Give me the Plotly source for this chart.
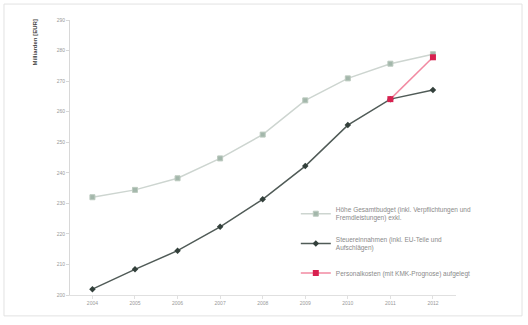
import plotly.graph_objects as go

years = ["2004", "2005", "2006", "2007", "2008", "2009", "2010", "2011", "2012"]
budget = [232.0, 234.4, 238.2, 244.7, 252.5, 263.7, 270.9, 275.7, 278.8]
steuern = [201.9, 208.4, 214.5, 222.3, 231.3, 242.2, 255.6, 264.1, 267.1]
personal_years = ["2011", "2012"]
personal = [264.1, 277.8]
y_ticks = [200, 210, 220, 230, 240, 250, 260, 270, 280, 290]

name1 = "Höhe Gesamtbudget (inkl. Verpflichtungen und<br>Fremdleistungen) exkl."
name2 = "Steuereinnahmen (inkl. EU-Teile und<br>Aufschlägen)"
name3 = "Personalkosten (mit KMK-Prognose) aufgelegt"

fig = go.Figure()
fig.add_trace(go.Scatter(
    x=years, y=budget, mode="lines+markers", name=name1, legendgroup="g1",
    line=dict(color="#cdd5d0", width=1.5),
    marker=dict(symbol="square", size=5, color="#a3b7ab", line=dict(color="#bccabf", width=1)),
))
fig.add_trace(go.Scatter(
    x=years, y=steuern, mode="lines+markers", name=name2, legendgroup="g2",
    line=dict(color="#505b57", width=1.5),
    marker=dict(symbol="diamond", size=5, color="#33403b"),
))
fig.add_trace(go.Scatter(
    x=personal_years, y=personal, mode="lines+markers", name=name3, legendgroup="g3",
    line=dict(color="#f28aa2", width=1.5),
    marker=dict(symbol="square", size=6, color="#d8204f"),
))

fig.update_layout(
    width=528, height=325,
    margin=dict(l=70, r=72, t=20, b=30),
    paper_bgcolor="white", plot_bgcolor="white",
    font=dict(family="Liberation Sans, Arial, sans-serif", size=5, color="#777777"),
    showlegend=True,
    legend=dict(
        x=0.585, y=0.35, xanchor="left", yanchor="top",
        bgcolor="rgba(0,0,0,0)", font=dict(size=6.5, color="#8a8a8a"),
        tracegroupgap=10, itemwidth=30,
    ),
    xaxis=dict(
        type="category", showgrid=False, showline=True, linecolor="#e0e0e0",
        ticks="outside", tickcolor="#e0e0e0", ticklen=3,
        tickfont=dict(size=5, color="#999999"),
    ),
    yaxis=dict(
        range=[200, 290], tickvals=y_ticks, showgrid=False, showline=True,
        linecolor="#d8d8d8", ticks="outside", tickcolor="#d8d8d8", ticklen=3,
        tickfont=dict(size=5, color="#999999"), zeroline=False,
    ),
    annotations=[dict(
        text="<b>Milliarden [EUR]</b>", textangle=-90, xref="paper", yref="paper",
        x=-0.09, y=1.01, xanchor="center", yanchor="top", showarrow=False,
        font=dict(size=6, color="#444444"),
    )],
    shapes=[dict(
        type="rect", xref="paper", yref="paper",
        x0=-0.171, x1=1.171, y0=-0.076, y1=1.058,
        line=dict(color="#e2e2e2", width=1),
    )],
)

fig.write_html("out.html")
